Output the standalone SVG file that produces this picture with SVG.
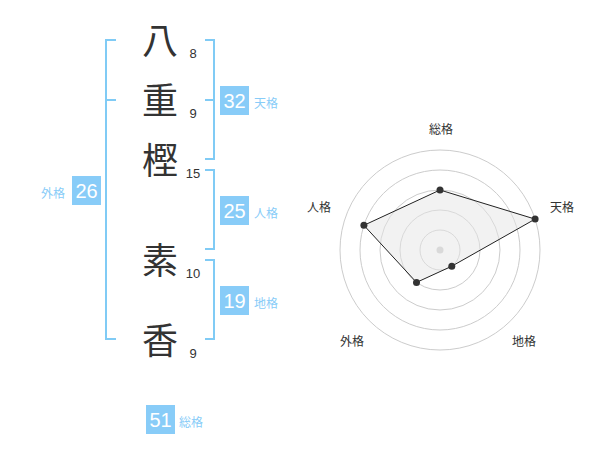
<svg xmlns="http://www.w3.org/2000/svg" width="600" height="470" viewBox="0 0 600 470">
<style>
.k{font-family:"Noto Sans CJK JP","Noto Sans CJK SC",sans-serif;font-size:36px;fill:#333;text-anchor:middle}
.n{font-family:"Liberation Sans",Arial,sans-serif;font-size:13px;fill:#333;text-anchor:middle}
.br{fill:none;stroke:#80cbf5;stroke-width:2}
.box{fill:#88ccf8}
.bt{font-family:"Liberation Sans",Arial,sans-serif;font-size:20px;fill:#fff;text-anchor:middle}
.lb{font-family:"Noto Sans CJK JP","Noto Sans CJK SC",sans-serif;font-size:12px;fill:#88ccf8}
.ring{fill:none;stroke:#cccccc;stroke-width:1}
.rl{font-family:"Noto Sans CJK JP","Noto Sans CJK SC",sans-serif;font-size:12px;fill:#333;text-anchor:middle}
.dot{fill:#333}
</style>
<g id="chars">
<text class="k" x="160" y="54">八</text>
<text class="k" x="160" y="114">重</text>
<text class="k" x="160" y="174">樫</text>
<text class="k" x="160" y="274">素</text>
<text class="k" x="160" y="354">香</text>
<text class="n" x="193" y="58">8</text>
<text class="n" x="193" y="118">9</text>
<text class="n" x="193" y="178">15</text>
<text class="n" x="193" y="278">10</text>
<text class="n" x="193" y="358">9</text>
</g>
<g id="brackets">
<path class="br" d="M116,40H106V339H116M106,100H116"/>
<path class="br" d="M205,40H214V159H205M205,100H214"/>
<path class="br" d="M205,170H214V249H205"/>
<path class="br" d="M205,260H214V339H205"/>
</g>
<g id="tenkaku">
<rect class="box" x="220" y="86" width="29" height="29"/>
<text class="bt" x="234.5" y="108">32</text>
<text class="lb" x="254" y="108">天格</text>
</g>
<g id="jinkaku">
<rect class="box" x="220" y="196" width="29" height="29"/>
<text class="bt" x="234.5" y="218">25</text>
<text class="lb" x="254" y="218">人格</text>
</g>
<g id="chikaku">
<rect class="box" x="220" y="286" width="29" height="29"/>
<text class="bt" x="234.5" y="308">19</text>
<text class="lb" x="254" y="308">地格</text>
</g>
<g id="gaikaku">
<rect class="box" x="72" y="176" width="29" height="29"/>
<text class="bt" x="86.5" y="198">26</text>
<text class="lb" x="41" y="198">外格</text>
</g>
<g id="soukaku">
<rect class="box" x="146" y="405" width="29" height="29"/>
<text class="bt" x="160.5" y="427">51</text>
<text class="lb" x="179" y="427">総格</text>
</g>
<g id="radar">
<circle class="ring" cx="440" cy="250" r="20"/>
<circle class="ring" cx="440" cy="250" r="40"/>
<circle class="ring" cx="440" cy="250" r="60"/>
<circle class="ring" cx="440" cy="250" r="80"/>
<circle class="ring" cx="440" cy="250" r="100"/>
<circle cx="440" cy="250" r="3.5" fill="#cccccc"/>
<polygon points="440,190 535.1,219.1 451.8,266.2 416.5,282.4 363.9,225.3" fill="#e6e6e6" fill-opacity="0.5" stroke="#222" stroke-width="1"/>
<circle class="dot" cx="440" cy="190" r="3.5"/>
<circle class="dot" cx="535.1" cy="219.1" r="3.5"/>
<circle class="dot" cx="451.8" cy="266.2" r="3.5"/>
<circle class="dot" cx="416.5" cy="282.4" r="3.5"/>
<circle class="dot" cx="363.9" cy="225.3" r="3.5"/>
<text class="rl" x="441" y="134">総格</text>
<text class="rl" x="562" y="212">天格</text>
<text class="rl" x="524" y="346">地格</text>
<text class="rl" x="352" y="346">外格</text>
<text class="rl" x="319" y="212">人格</text>
</g>
</svg>
